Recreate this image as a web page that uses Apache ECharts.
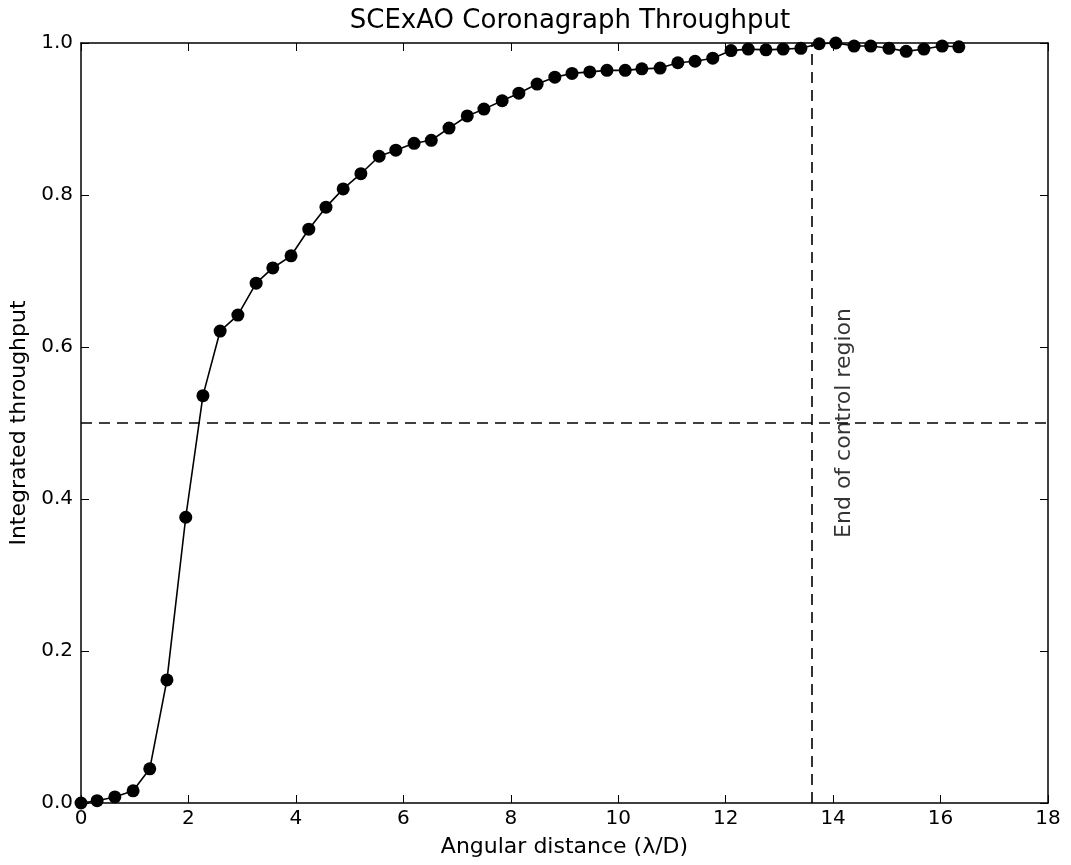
<!DOCTYPE html>
<html>
<head>
<meta charset="utf-8">
<script src="https://cdn.jsdelivr.net/npm/echarts@6/dist/echarts.min.js"></script>
<style>html,body{margin:0;padding:0;background:#fff}#chart{width:1071px;height:865px}</style>
</head>
<body>
<div id="chart"></div>
<script>
// Angular distance (lambda/D)
const distances = [0.00, 0.30, 0.63, 0.97, 1.28, 1.60, 1.95, 2.27, 2.59, 2.92,
  3.26, 3.57, 3.91, 4.24, 4.56, 4.88, 5.21, 5.55, 5.86, 6.20,
  6.52, 6.85, 7.19, 7.50, 7.84, 8.15, 8.49, 8.82, 9.14, 9.47,
  9.79, 10.13, 10.44, 10.78, 11.11, 11.43, 11.76, 12.10, 12.42, 12.75,
  13.07, 13.40, 13.74, 14.05, 14.39, 14.70, 15.04, 15.36, 15.69, 16.03, 16.34];
// Integrated throughput
const throughput = [0.000, 0.003, 0.008, 0.016, 0.045, 0.162, 0.376, 0.536, 0.621, 0.642,
  0.684, 0.704, 0.720, 0.755, 0.784, 0.808, 0.828, 0.851, 0.859, 0.868,
  0.872, 0.888, 0.904, 0.913, 0.924, 0.934, 0.946, 0.955, 0.960, 0.962,
  0.964, 0.964, 0.966, 0.967, 0.974, 0.976, 0.980, 0.990, 0.992, 0.991,
  0.992, 0.993, 0.999, 1.000, 0.996, 0.996, 0.993, 0.989, 0.992, 0.996, 0.995];
const xTicks = [0, 2, 4, 6, 8, 10, 12, 14, 16, 18];
const yTicks = [0.0, 0.2, 0.4, 0.6, 0.8, 1.0];
const halfLevel = 0.5;          // horizontal dashed reference
const controlEdge = 13.6;       // vertical dashed reference
const annotationText = 'End of control region';
const annotationAt = [14.0, 0.5];

const FONT = 'DejaVu Sans';
const chart = echarts.init(document.getElementById('chart'), null, {renderer: 'canvas'});
const pts = distances.map((d, i) => [d, throughput[i]]);

const axisCommon = {
  axisLine: {show: true, onZero: false, lineStyle: {color: '#000', width: 1.5}},
  axisTick: {show: true, inside: true, length: 8, lineStyle: {color: '#000', width: 1}},
  splitLine: {show: false}
};

chart.setOption({
  animation: false,
  backgroundColor: '#fff',
  title: {
    text: 'SCExAO Coronagraph Throughput',
    left: 565, top: 3, textAlign: 'center',
    textStyle: {fontFamily: FONT, fontSize: 26, fontWeight: 'normal', color: '#000'}
  },
  grid: {left: 81, right: 23, top: 43, bottom: 62, containLabel: false, outerBoundsMode: 'none'},
  xAxis: [
    Object.assign({}, axisCommon, {
      type: 'value', min: xTicks[0], max: xTicks[xTicks.length - 1], interval: 2,
      position: 'bottom',
      name: 'Angular distance (\u03bb/D)', nameLocation: 'middle', nameGap: 33,
      nameTextStyle: {fontFamily: FONT, fontSize: 22, color: '#000'},
      axisLabel: {fontFamily: FONT, fontSize: 20, color: '#000', margin: 6}
    }),
    Object.assign({}, axisCommon, {
      type: 'value', min: xTicks[0], max: xTicks[xTicks.length - 1], interval: 2,
      position: 'top', axisLabel: {show: false}
    })
  ],
  yAxis: [
    Object.assign({}, axisCommon, {
      type: 'value', min: yTicks[0], max: yTicks[yTicks.length - 1], interval: 0.2,
      position: 'left',
      name: 'Integrated throughput', nameLocation: 'middle', nameGap: 51, nameRotate: 90,
      nameTextStyle: {fontFamily: FONT, fontSize: 22, color: '#000'},
      axisLabel: {fontFamily: FONT, fontSize: 20, color: '#000', margin: 8,
        formatter: v => v.toFixed(1)}
    }),
    Object.assign({}, axisCommon, {
      type: 'value', min: yTicks[0], max: yTicks[yTicks.length - 1], interval: 0.2,
      position: 'right', axisLabel: {show: false}
    })
  ],
  series: [
    {
      type: 'line',
      data: pts,
      xAxisIndex: 0, yAxisIndex: 0,
      symbol: 'circle', symbolSize: 13, showSymbol: true,
      lineStyle: {color: '#000', width: 1.6},
      itemStyle: {color: '#000'},
      clip: true,
      z: 5,
      markLine: {
        silent: true, symbol: 'none',
        lineStyle: {color: '#000', width: 1.6, type: [11, 7]},
        label: {show: false},
        data: [{yAxis: halfLevel}, {xAxis: controlEdge}]
      }
    },
    {
      type: 'scatter',
      data: [annotationAt],
      symbolSize: 0,
      silent: true,
      label: {
        show: true, formatter: annotationText, rotate: 90,
        position: [0, 0], align: 'center', verticalAlign: 'top',
        fontFamily: FONT, fontSize: 22, color: '#000'
      }
    }
  ]
});
</script>
</body>
</html>
